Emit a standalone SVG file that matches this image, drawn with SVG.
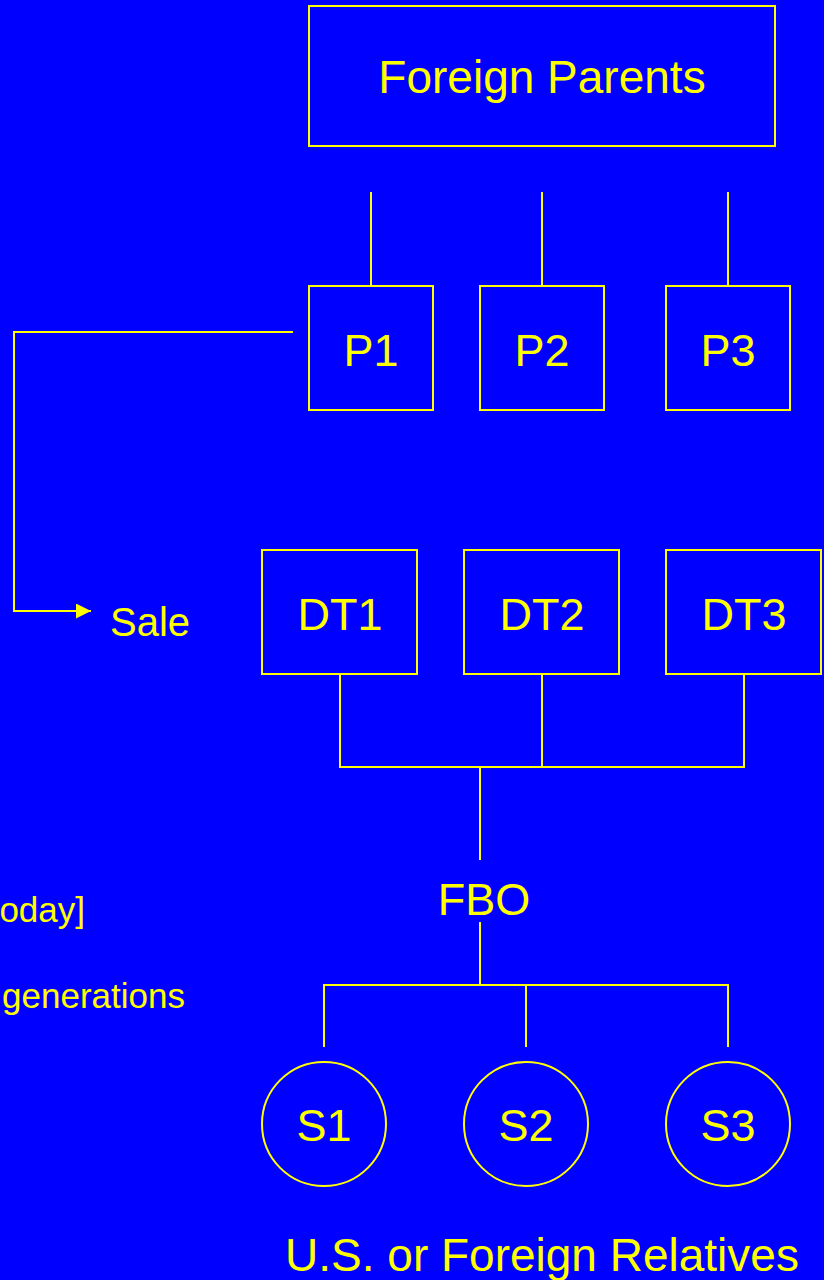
<svg xmlns="http://www.w3.org/2000/svg" width="824" height="1280" viewBox="0 0 824 1280">
<style>
.box{fill:none;stroke:#FFFF00;stroke-width:2}
.ln{fill:none;stroke:#FFFF00;stroke-width:2}
text{font-family:"Liberation Sans",Arial,sans-serif;fill:#FFFF00}
.big{font-size:45px;text-anchor:middle}
.med{font-size:40px}
.sm{font-size:35px;text-anchor:end}
</style>
<defs>
<marker id="arr" viewBox="0 0 10 10" refX="10" refY="5" markerWidth="15" markerHeight="15" markerUnits="userSpaceOnUse" orient="auto" preserveAspectRatio="none">
<path d="M0,0 L10,5 L0,10 Z" fill="#FFFF00"/>
</marker>
</defs>
<rect width="824" height="1280" fill="#0000FF"/>
<g id="connectors">
<line class="ln" x1="371" y1="192" x2="371" y2="286"/>
<line class="ln" x1="542" y1="192" x2="542" y2="286"/>
<line class="ln" x1="728" y1="192" x2="728" y2="286"/>
<path class="ln" d="M293,332 H14 V611 H91" marker-end="url(#arr)"/>
<path class="ln" d="M340,674 V767 H744 V674 M542,674 V767"/>
<line class="ln" x1="480" y1="767" x2="480" y2="860"/>
<line class="ln" x1="480" y1="922" x2="480" y2="985"/>
<path class="ln" d="M324,1047 V985 H728 V1047 M526,985 V1047"/>
</g>
<g id="foreign-parents">
<rect class="box" x="309" y="6" width="466" height="140"/>
<text class="big" x="542" y="93" style="font-size:46px">Foreign Parents</text>
</g>
<g id="p1"><rect class="box" x="309" y="286" width="124" height="124"/><text class="big" x="371" y="366">P1</text></g>
<g id="p2"><rect class="box" x="480" y="286" width="124" height="124"/><text class="big" x="542" y="366">P2</text></g>
<g id="p3"><rect class="box" x="666" y="286" width="124" height="124"/><text class="big" x="728" y="366">P3</text></g>
<g id="sale"><text class="med" x="110" y="636">Sale</text></g>
<g id="dt1"><rect class="box" x="262" y="550" width="155" height="124"/><text class="big" x="340" y="630">DT1</text></g>
<g id="dt2"><rect class="box" x="464" y="550" width="155" height="124"/><text class="big" x="542" y="630">DT2</text></g>
<g id="dt3"><rect class="box" x="666" y="550" width="155" height="124"/><text class="big" x="744" y="630">DT3</text></g>
<g id="fbo"><text class="big" x="484" y="915">FBO</text></g>
<g id="s1"><circle class="box" cx="324" cy="1124" r="62"/><text class="big" x="324" y="1141">S1</text></g>
<g id="s2"><circle class="box" cx="526" cy="1124" r="62"/><text class="big" x="526" y="1141">S2</text></g>
<g id="s3"><circle class="box" cx="728" cy="1124" r="62"/><text class="big" x="728" y="1141">S3</text></g>
<g id="relatives"><text class="big" x="542" y="1271" style="font-size:46px">U.S. or Foreign Relatives</text></g>
<g id="notes">
<text class="sm" x="85" y="922">oday]</text>
<text class="sm" x="185" y="1008">generations</text>
</g>
</svg>
